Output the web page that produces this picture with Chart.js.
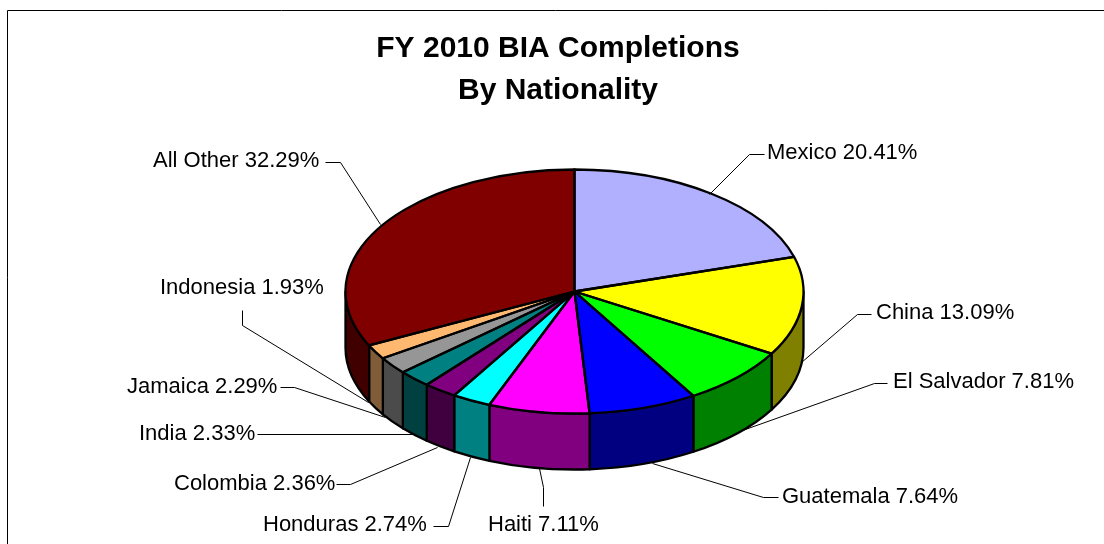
<!DOCTYPE html>
<html>
<head>
<meta charset="utf-8">
<style>html,body{margin:0;padding:0;background:#fff;overflow:hidden}canvas{display:block}</style>
<script src="https://cdn.jsdelivr.net/npm/chart.js@4"></script>
</head>
<body>
<canvas id="c" width="1104" height="544"></canvas>
<script>
const titleLines = ['FY 2010 BIA Completions', 'By Nationality'];
const categories = ['Mexico','China','El Salvador','Guatemala','Haiti','Honduras','Colombia','India','Jamaica','Indonesia','All Other'];
const shares = [20.41,13.09,7.81,7.64,7.11,2.74,2.36,2.33,2.29,1.93,32.29];
const topColors = ['#B0B0FF','#FFFF00','#00FF00','#0000FF','#FF00FF','#00FFFF','#800080','#008080','#969696','#FFB870','#800000'];
const wallColors = ['#58587F','#808000','#008000','#000080','#800080','#008080','#400040','#004040','#4B4B4B','#805C38','#400000'];

// Layout only: label anchors and leader-line paths, in the same order as categories.
const labelAnchors = [[767,153],[876,313],[893,382],[782,497],[488,525],[263,525],[174,484],[139,434],[127,387],[160,288],[153,161]];
const leaders = [
  [[764,154],[749,154],[709,194]],
  [[871,314],[857,314],[801,362]],
  [[887,383],[874,383],[742,430]],
  [[778,497],[763,497],[652,463]],
  [[543,506],[543,487],[539,468]],
  [[433,526],[448,526],[470,457]],
  [[336,484],[350,484],[437,447]],
  [[257,434],[412,434]],
  [[280,387],[294,387],[385,417]],
  [[242,310],[242,325],[368,402]],
  [[325,162],[340,162],[380,224]]
];
const tilt = 122 / 229, depth = 56;

function ellipsePath(ctx, x, y, r, a0, a1, ccw) {
  ctx.ellipse(x, y, r, r * tilt, 0, a0, a1, !!ccw);
}

const pie3d = {
  id: 'pie3d',
  afterLayout(chart) { chart.titleBlock.left = 12; },
  beforeDraw(chart) {
    const ctx = chart.ctx;
    ctx.save();
    ctx.fillStyle = '#fff';
    ctx.fillRect(0, 0, chart.width, chart.height);
    ctx.strokeStyle = '#000';
    ctx.lineWidth = 1;
    ctx.beginPath();
    ctx.moveTo(7.5, 544); ctx.lineTo(7.5, 10.5); ctx.lineTo(1104, 10.5);
    ctx.stroke();
    ctx.restore();
  },
  beforeDatasetsDraw(chart) {
    const ctx = chart.ctx;
    ctx.save();
    ctx.lineWidth = 2.3;
    ctx.strokeStyle = '#000';
    ctx.lineJoin = 'round';
    chart.getDatasetMeta(0).data.forEach((arc, i) => {
      const p = arc.getProps(['x','y','startAngle','endAngle','outerRadius']);
      const a0 = Math.max(p.startAngle, 0), a1 = Math.min(p.endAngle, Math.PI);
      if (a1 <= a0) return;
      ctx.beginPath();
      ellipsePath(ctx, p.x, p.y, p.outerRadius, a0, a1);
      ellipsePath(ctx, p.x, p.y + depth, p.outerRadius, a1, a0, true);
      ctx.closePath();
      ctx.fillStyle = wallColors[i];
      ctx.fill();
      ctx.stroke();
    });
    ctx.restore();
  },
  beforeDatasetDraw(chart) {
    const ctx = chart.ctx;
    const a = chart.getDatasetMeta(0).data[0];
    ctx.save();
    ctx.translate(a.x, a.y);
    ctx.scale(1, tilt);
    ctx.translate(-a.x, -a.y);
  },
  afterDatasetDraw(chart) {
    const ctx = chart.ctx;
    ctx.restore();
    ctx.save();
    ctx.lineWidth = 2.3;
    ctx.strokeStyle = '#000';
    ctx.lineJoin = 'round';
    chart.getDatasetMeta(0).data.forEach(arc => {
      const p = arc.getProps(['x','y','startAngle','endAngle','outerRadius']);
      ctx.beginPath();
      ctx.moveTo(p.x, p.y);
      ellipsePath(ctx, p.x, p.y, p.outerRadius, p.startAngle, p.endAngle);
      ctx.closePath();
      ctx.stroke();
    });
    ctx.restore();
  },
  afterDraw(chart) {
    const ctx = chart.ctx;
    ctx.save();
    ctx.strokeStyle = '#000';
    ctx.lineWidth = 1;
    leaders.forEach(path => {
      ctx.beginPath();
      path.forEach((pt, i) => {
        const x = pt[0] + .5, y = pt[1] + .5;
        i ? ctx.lineTo(x, y) : ctx.moveTo(x, y);
      });
      ctx.stroke();
    });
    ctx.fillStyle = '#000';
    ctx.font = '22px "Liberation Sans", Arial, sans-serif';
    ctx.textAlign = 'left';
    ctx.textBaseline = 'middle';
    categories.forEach((name, i) => {
      ctx.fillText(name + ' ' + shares[i].toFixed(2) + '%', labelAnchors[i][0], labelAnchors[i][1]);
    });
    ctx.restore();
  }
};

new Chart(document.getElementById('c'), {
  type: 'pie',
  data: {
    labels: categories,
    datasets: [{
      data: shares,
      backgroundColor: topColors,
      borderWidth: 0,
      clip: false
    }]
  },
  options: {
    responsive: false,
    animation: false,
    radius: 229,
    layout: { padding: { left: 45, right: 0, top: 0, bottom: 73 } },
    plugins: {
      legend: { display: false },
      tooltip: { enabled: false },
      title: {
        display: true,
        text: titleLines,
        color: '#000',
        font: { family: '"Liberation Sans", Arial, sans-serif', size: 30, weight: 'bold', lineHeight: 1.4 },
        padding: { top: 28, bottom: 0 }
      }
    }
  },
  plugins: [pie3d]
});
</script>
</body>
</html>
